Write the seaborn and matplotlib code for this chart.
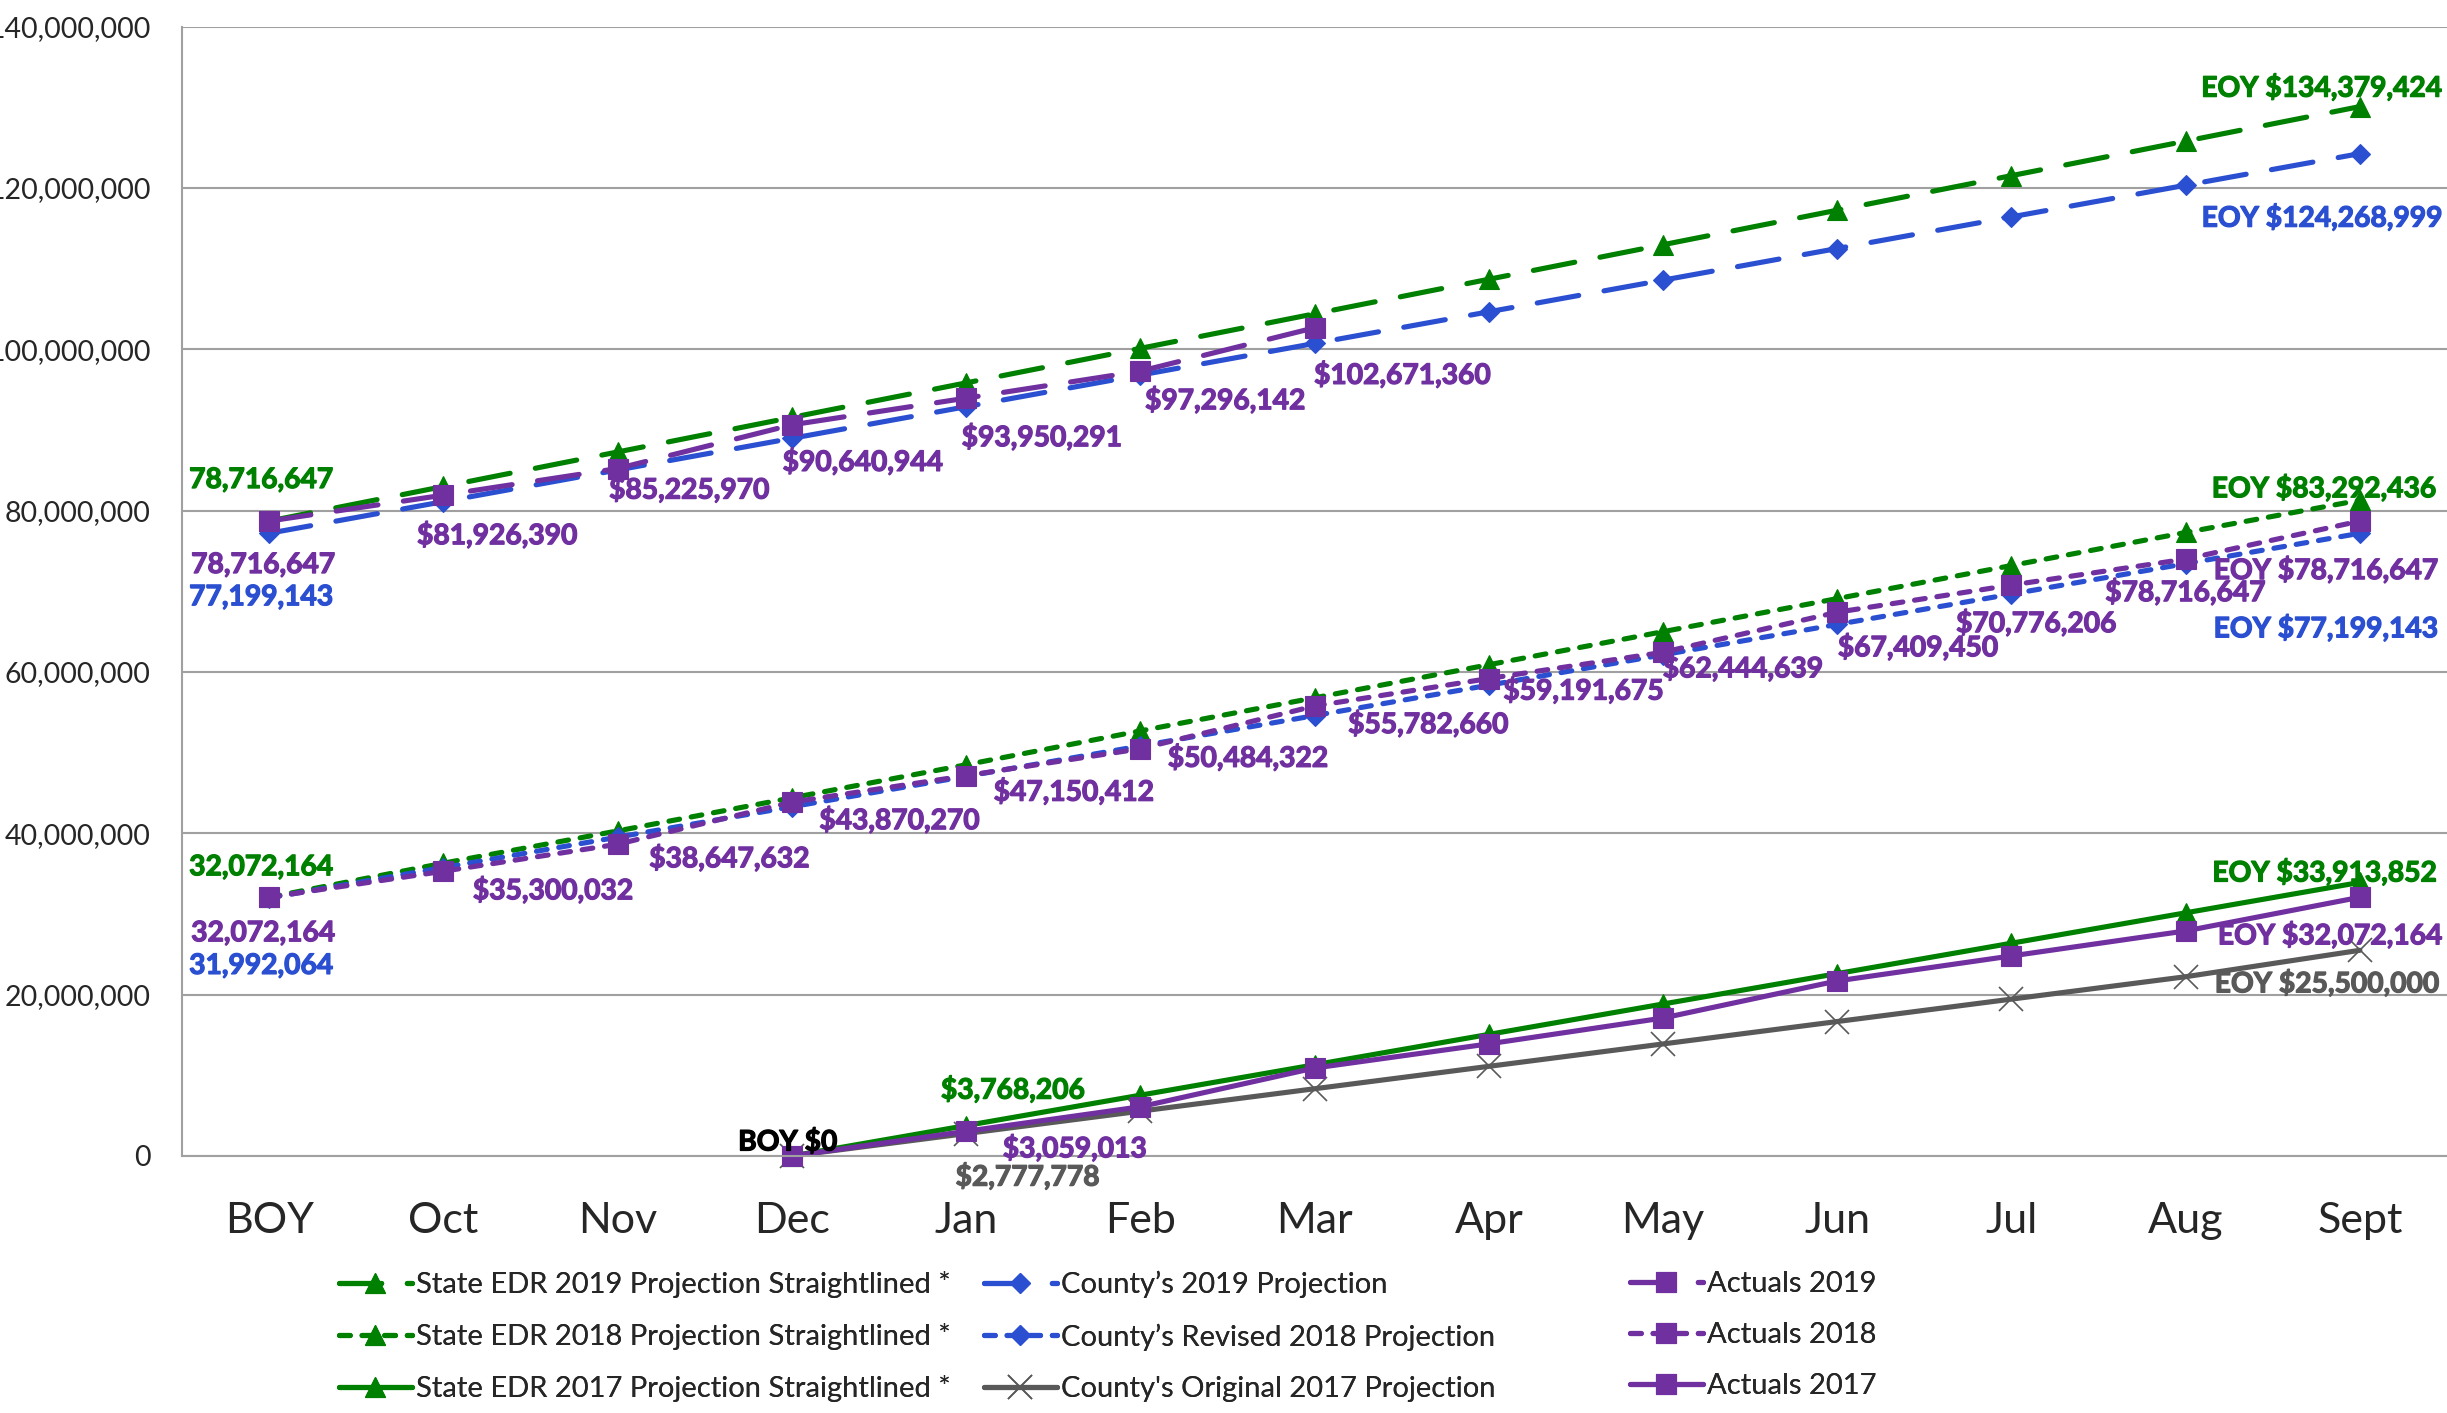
import matplotlib
matplotlib.use("Agg")
import matplotlib.pyplot as plt
import matplotlib.ticker as mticker
import matplotlib.patheffects as pe
import numpy as np
import pandas as pd
import seaborn as sns
from matplotlib import font_manager

# --- data -----------------------------------------------------------------
months = ["BOY", "Oct", "Nov", "Dec", "Jan", "Feb", "Mar", "Apr", "May",
          "Jun", "Jul", "Aug", "Sept"]

edr_2019 = [78716647, 82998399, 87280151, 91561903, 95843655, 100125407,
            104407159, 108688911, 112970663, 117252415, 121534167,
            125815919, 130097671]
county_2019 = [77199143, 81121631, 85044119, 88966607, 92889095, 96811583,
               100734071, 104656559, 108579047, 112501535, 116424023,
               120346511, 124268999]
actuals_2019 = [78716647, 81926390, 85225970, 90640944, 93950291, 97296142,
                102671360, None, None, None, None, None, None]

edr_2018 = [32072164, 36300000, 40300000, 44400000, 48500000, 52700000,
            56800000, 60900000, 65000000, 69100000, 73200000, 77300000,
            81300000]
county_rev_2018 = [31992064, 35759321, 39526578, 43293835, 47061092,
                   50828349, 54595606, 58362863, 62130120, 65897377,
                   69664634, 73431891, 77199143]
actuals_2018 = [32072164, 35300032, 38647632, 43870270, 47150412, 50484322,
                55782660, 59191675, 62444639, 67409450, 70776206, 74000000,
                78716647]

edr_2017 = [None, None, None, 0, 3768206, 7536412, 11304618, 15072824,
            18841030, 22609236, 26377442, 30145648, 33913852]
county_orig_2017 = [None, None, None, 0, 2777778, 5555556, 8333333,
                    11111111, 13888889, 16666667, 19444444, 22222222,
                    25500000]
actuals_2017 = [None, None, None, 0, 3059013, 6100000, 10900000, 13900000,
                17100000, 21700000, 24800000, 27900000, 32072164]

labels_act_2019 = ["$81,926,390", "$85,225,970", "$90,640,944",
                   "$93,950,291", "$97,296,142", "$102,671,360"]
labels_act_2018 = ["$35,300,032", "$38,647,632", "$43,870,270",
                   "$47,150,412", "$50,484,322", "$55,782,660",
                   "$59,191,675", "$62,444,639", "$67,409,450",
                   "$70,776,206", "$78,716,647"]

# --- style ----------------------------------------------------------------
GREEN = "#008000"
BLUE = "#2B4FD1"
PURPLE = "#7030A0"
GRAY = "#595959"
GRID = "#A0A0A0"

LONG_DASH = (0, (8.2, 5.0))
SHORT_DASH = (0, (2.1, 2.3))

SERIES = {
    "edr_2019": dict(label="State EDR 2019 Projection Straightlined *", values=edr_2019,
                     color=GREEN, marker="^", ls=LONG_DASH, ms=15),
    "edr_2018": dict(label="State EDR 2018 Projection Straightlined *", values=edr_2018,
                     color=GREEN, marker="^", ls=SHORT_DASH, ms=15),
    "edr_2017": dict(label="State EDR 2017 Projection Straightlined *", values=edr_2017,
                     color=GREEN, marker="^", ls="-", ms=15),
    "county_2019": dict(label="County\u2019s 2019 Projection", values=county_2019,
                        color=BLUE, marker="D", ls=LONG_DASH, ms=10.5),
    "county_rev_2018": dict(label="County\u2019s Revised 2018 Projection", values=county_rev_2018,
                            color=BLUE, marker="D", ls=SHORT_DASH, ms=10.5),
    "county_orig_2017": dict(label="County's Original 2017 Projection", values=county_orig_2017,
                             color=GRAY, marker="x", ls="-", ms=17),
    "act_2019": dict(label="Actuals 2019", values=actuals_2019,
                     color=PURPLE, marker="s", ls=LONG_DASH, ms=14.5),
    "act_2018": dict(label="Actuals 2018", values=actuals_2018,
                     color=PURPLE, marker="s", ls=SHORT_DASH, ms=14.5),
    "act_2017": dict(label="Actuals 2017", values=actuals_2017,
                     color=PURPLE, marker="s", ls="-", ms=14.5),
}

# data labels: (series, month index, text, colour or None, dx px, dy px down, ha)
ANNOTATIONS = (
    [("act_2019", i + 1, t, None, dx, dy, "center") for i, (t, (dx, dy)) in enumerate(zip(
        labels_act_2019, [(54, 40), (72, 21), (71, 37), (76, 39), (85, 29), (88, 47)]))]
    + [("act_2018", i + 1, t, None, dx, dy, "center") for i, (t, (dx, dy)) in enumerate(zip(
        labels_act_2018, [(110, 19), (112, 14), (108, 18), (108, 16), (108, 9), (114, 18),
                          (95, 12), (80, 16), (81, 35), (25, 38), (0, 33)]))]
    + [
        ("edr_2019", 0, "78,716,647", None, -80, -41, "left"),
        ("act_2019", 0, "78,716,647", None, -78, 44, "left"),
        ("county_2019", 0, "77,199,143", None, -80, 64, "left"),
        ("edr_2018", 0, "32,072,164", None, -80, -30, "left"),
        ("act_2018", 0, "32,072,164", None, -78, 36, "left"),
        ("county_rev_2018", 0, "31,992,064", None, -80, 68, "left"),
        ("edr_2019", 12, "EOY $134,379,424", None, 83, -19, "right"),
        ("county_2019", 12, "EOY $124,268,999", None, 83, 64, "right"),
        ("edr_2018", 12, "EOY $83,292,436", None, 77, -12, "right"),
        ("act_2018", 12, "EOY $78,716,647", None, 79, 49, "right"),
        ("county_rev_2018", 12, "EOY $77,199,143", None, 79, 95, "right"),
        ("edr_2017", 12, "EOY $33,913,852", None, 78, -10, "right"),
        ("act_2017", 12, "EOY $32,072,164", None, 83, 38, "right"),
        ("county_orig_2017", 12, "EOY $25,500,000", None, 80, 33, "right"),
        ("act_2017", 3, "BOY $0", "black", -4, -14, "center"),
        ("edr_2017", 4, "$3,768,206", None, 47, -36, "center"),
        ("act_2017", 4, "$3,059,013", None, 109, 17, "center"),
        ("county_orig_2017", 4, "$2,777,778", None, 62, 43, "center"),
    ]
)


def build_frame():
    rows = []
    for key, s in SERIES.items():
        for pos, v in enumerate(s["values"]):
            if v is not None:
                rows.append({"series": key, "pos": pos, "value": v})
    return pd.DataFrame(rows)


def plot(df, outfile="out.png"):
    sns.set_style("white")
    names = {f.name for f in font_manager.fontManager.ttflist}
    plt.rcParams["font.family"] = ["Lato" if "Lato" in names else "DejaVu Sans"]

    fig = plt.figure(figsize=(24.47, 14.13), dpi=100)
    ax = fig.add_axes([0.0744, 0.1819, 0.9256, 0.7992])

    lines = {}
    for key, s in SERIES.items():
        sns.lineplot(
            data=df[df.series == key], x="pos", y="value", ax=ax,
            color=s["color"], marker=s["marker"], markersize=s["ms"],
            linestyle=s["ls"], linewidth=3.7, dash_capstyle="round",
            markeredgecolor=s["color"], markeredgewidth=1.2 if s["marker"] == "x" else 0.8,
            label=s["label"], legend=False, clip_on=False, errorbar=None,
        )
        lines[key] = ax.lines[-1]

    # axes, ticks and grid
    ax.set_xlim(-0.5, len(months) - 0.5)
    ax.set_ylim(0, 140_000_000)
    ax.set_xticks(range(len(months)))
    ax.set_xticklabels(months)
    ax.set_xticks(np.arange(-0.5, len(months)), minor=True)
    ax.set_yticks(range(0, 140_000_001, 20_000_000))
    ax.yaxis.set_major_formatter(mticker.FuncFormatter(lambda v, _: f"{v:,.0f}"))
    ax.tick_params(axis="x", which="major", length=0, labelsize=31, pad=33)
    ax.tick_params(axis="x", which="minor", length=10.8, width=1.5, color=GRID)
    ax.tick_params(axis="y", length=6.5, width=1.5, color=GRID, labelsize=20.5, pad=16)
    ax.set_xlabel("")
    ax.set_ylabel("")
    ax.yaxis.grid(True, color=GRID, linewidth=1.5)
    ax.set_axisbelow(True)
    sns.despine(ax=ax, top=True, right=True)
    for side in ("left", "bottom"):
        ax.spines[side].set_color(GRID)
        ax.spines[side].set_linewidth(1.5)

    # data labels
    for key, pos, text, color, dx, dy, ha in ANNOTATIONS:
        s = SERIES[key]
        c = color or s["color"]
        ax.annotate(
            text, xy=(pos, s["values"][pos]), xytext=(dx, -dy),
            textcoords="offset pixels", ha=ha, va="center",
            color=c, fontsize=20.3, fontweight="bold",
            annotation_clip=False,
            path_effects=[pe.withStroke(linewidth=0.9, foreground=c)],
        )

    # legend: three columns, one legend each so the columns line up like the original
    columns = [
        (["edr_2019", "edr_2018", "edr_2017"], 0.1385),
        (["county_2019", "county_rev_2018", "county_orig_2017"], 0.4021),
        (["act_2019", "act_2018", "act_2017"], 0.6661),
    ]
    for keys, x in columns:
        leg = fig.legend(
            handles=[lines[k] for k in keys], labels=[SERIES[k]["label"] for k in keys],
            loc="upper left", bbox_to_anchor=(x, 0.1005), frameon=False,
            fontsize=21, handlelength=2.5, handletextpad=0.15, labelspacing=0.86,
            borderpad=0, borderaxespad=0,
        )
        fig.add_artist(leg)

    fig.savefig(outfile, dpi=100)


if __name__ == "__main__":
    plot(build_frame())
